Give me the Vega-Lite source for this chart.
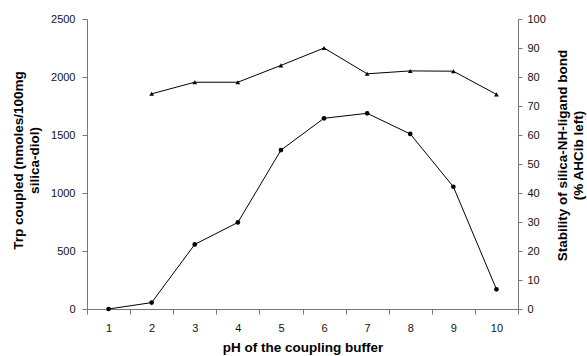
{
  "$schema": "https://vega.github.io/schema/vega-lite/v6.json",
  "width": 431,
  "height": 290,
  "autosize": {"type": "none"},
  "padding": {"left": 87, "top": 19, "right": 69, "bottom": 47},
  "background": "white",
  "config": {
    "view": {"stroke": null},
    "font": "Liberation Sans",
    "axis": {
      "grid": false,
      "domainColor": "#777777",
      "tickColor": "#777777",
      "labelColor": "#111111",
      "labelFont": "Liberation Sans",
      "labelFontSize": 11,
      "titleFont": "Liberation Sans",
      "titleFontSize": 13.5,
      "titleFontWeight": "bold",
      "titleColor": "#000000",
      "titleLineHeight": 16.5
    }
  },
  "data": {
    "values": [
      {"pH": 1, "trp": 0, "stab": null},
      {"pH": 2, "trp": 55, "stab": 74.2},
      {"pH": 3, "trp": 557, "stab": 78.2},
      {"pH": 4, "trp": 746, "stab": 78.2},
      {"pH": 5, "trp": 1370, "stab": 84},
      {"pH": 6, "trp": 1644, "stab": 90},
      {"pH": 7, "trp": 1687, "stab": 81.1},
      {"pH": 8, "trp": 1509, "stab": 82.1},
      {"pH": 9, "trp": 1054, "stab": 82},
      {"pH": 10, "trp": 170, "stab": 74}
    ]
  },
  "encoding": {
    "x": {
      "field": "pH",
      "type": "ordinal",
      "scale": {"type": "band", "paddingInner": 0, "paddingOuter": 0},
      "axis": {
        "title": "pH of the coupling buffer",
        "labelAngle": 0,
        "tickBand": "extent",
        "tickSize": 5,
        "labelPadding": 8,
        "titlePadding": 7
      }
    }
  },
  "layer": [
    {
      "encoding": {
        "y": {
          "field": "trp",
          "type": "quantitative",
          "scale": {"domain": [0, 2500], "nice": false},
          "axis": {
            "orient": "left",
            "values": [0, 500, 1000, 1500, 2000, 2500],
            "format": "d",
            "title": ["Trp coupled (nmoles/100mg", "silica-diol)"],
            "titleAngle": -90,
            "titleAlign": "center",
            "titleBaseline": "middle",
            "titleX": -69,
            "titleY": 141,
            "tickSize": 5,
            "labelPadding": 7
          }
        }
      },
      "layer": [
        {"mark": {"type": "line", "color": "#000000", "strokeWidth": 1}},
        {"mark": {"type": "point", "shape": "circle", "filled": true, "color": "#000000", "opacity": 1, "size": 22}}
      ]
    },
    {
      "transform": [{"filter": "datum.stab != null"}],
      "encoding": {
        "y": {
          "field": "stab",
          "type": "quantitative",
          "scale": {"domain": [0, 100], "nice": false},
          "axis": {
            "orient": "right",
            "values": [0, 10, 20, 30, 40, 50, 60, 70, 80, 90, 100],
            "title": ["Stability of silica-NH-ligand bond", "(% AHCib left)"],
            "titleAngle": -90,
            "titleAlign": "center",
            "titleBaseline": "middle",
            "titleX": 44,
            "titleY": 136,
            "tickSize": 4,
            "labelPadding": 5
          }
        }
      },
      "layer": [
        {"mark": {"type": "line", "color": "#000000", "strokeWidth": 1}},
        {"mark": {"type": "point", "shape": "triangle-up", "filled": true, "color": "#000000", "opacity": 1, "size": 22}}
      ]
    }
  ],
  "resolve": {"scale": {"y": "independent"}}
}
